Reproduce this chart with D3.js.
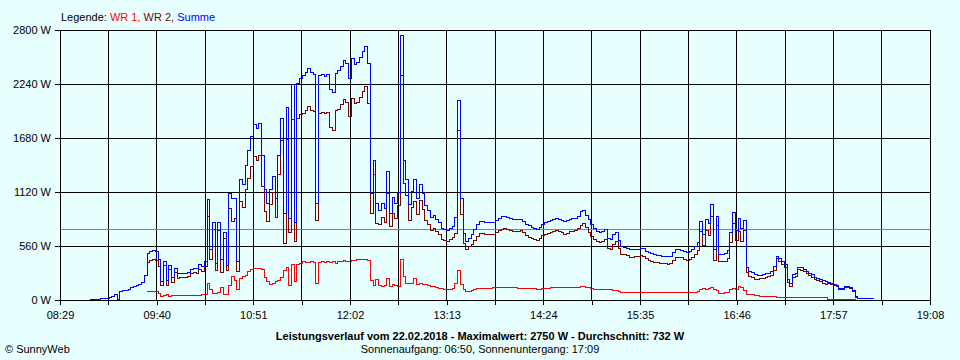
<!DOCTYPE html>
<html>
<head>
<meta charset="UTF-8" />
<script src="https://cdn.jsdelivr.net/npm/d3@7"></script>
<title>Leistungsverlauf</title>
<style>
  body { margin: 0; background: #e8ffff; }
  svg { display: block; font-family: "Liberation Sans", Arial, sans-serif; font-size: 11px; }
  .grid line { stroke: #000; shape-rendering: crispEdges; }
  .axis path { display: none; }
  .axis line { stroke: #000; shape-rendering: crispEdges; }
  .axis text { fill: #000; font-size: 11px; font-family: "Liberation Sans", Arial, sans-serif; }
  .series { fill: none; stroke-width: 1; shape-rendering: crispEdges; }
</style>
</head>
<body>
<svg id="chart" width="960" height="360"></svg>
<script>
// readings every 2 minutes starting 08:51
const startTime = "08:51";
const stepMinutes = 2;

const summe = [
  5,5,8,10,12,15,20,25,40,52,
  7,86,95,100,111,125,140,155,165,180,
  250,480,498,510,500,415,190,400,200,360,
  230,330,270,275,272,280,290,320,330,325,
  370,350,400,1040,520,800,380,800,420,700,
  360,1100,1050,1050,400,1250,1200,1400,1550,1700,
  1820,1780,1830,1500,1150,1000,1150,1280,1050,1500,
  1880,900,2000,850,2240,800,2250,2300,2330,2360,
  2400,2360,2340,1000,2330,2340,2320,2340,2180,2150,
  2350,2380,2420,2480,2450,2300,2500,2440,2460,2520,
  2580,2630,2450,1100,1450,1000,930,1000,950,1330,
  900,1060,1000,1120,2740,1450,1250,990,1130,1250,
  1050,1200,1100,980,930,860,880,840,800,740,
  730,720,740,760,860,2070,1050,690,610,640,
  680,730,778,810,810,805,805,805,805,825,
  850,866,870,857,848,840,835,830,840,815,
  785,768,755,740,733,750,785,800,815,825,
  837,845,838,825,812,820,835,842,850,870,
  915,930,880,830,780,740,715,700,715,735,
  640,630,680,705,620,556,545,536,520,519,
  525,528,536,530,505,490,480,470,465,458,
  456,452,449,455,490,519,519,512,500,490,
  500,520,550,600,810,680,830,790,990,520,
  870,470,470,480,510,700,910,720,850,740,
  820,340,300,285,265,255,259,265,272,280,
  300,345,456,430,400,370,210,170,260,270,
  337,335,318,298,280,262,235,222,212,200,
  188,180,175,165,150,120,121,138,135,128,
  100,34,18,18,18,17,17,17,17
];

const wr1 = [
  null,null,null,null,null,null,null,null,null,null,
  null,null,null,null,null,null,null,null,null,null,
  null,86,86,86,86,69,40,45,52,40,
  45,42,45,45,42,45,45,45,47,47,
  50,52,55,176,104,70,69,75,130,60,
  52,150,240,200,104,225,240,250,293,315,
  329,329,329,320,230,190,156,170,190,200,
  230,311,340,150,363,190,363,380,395,390,
  392,395,390,173,392,395,390,395,392,395,
  380,400,395,405,400,395,410,405,415,420,
  422,420,410,207,150,210,150,140,150,225,
  140,165,150,140,415,240,170,170,175,225,
  165,170,165,156,150,140,135,128,121,115,
  111,111,113,115,173,311,160,104,90,86,
  100,110,115,121,121,121,122,124,126,128,
  132,132,130,128,128,128,126,124,122,120,
  118,118,116,115,114,114,116,120,124,126,
  128,128,126,126,128,128,128,128,130,132,
  138,138,132,128,120,112,106,104,104,104,
  104,104,100,96,90,80,76,76,78,76,
  76,74,76,76,78,76,76,76,74,76,
  76,76,78,76,76,76,74,76,76,78,
  76,76,80,90,104,118,110,121,125,110,
  95,72,72,76,76,104,120,104,138,130,
  100,55,52,52,50,45,40,40,41,41,
  41,41,30,28,28,28,28,28,28,28,
  24,24,24,24,24,24,24,24,24,24,
  24,10,10,10,10,10,10,10,10,10,
  10,5
];

const wr2 = [
  null,null,null,null,null,null,null,null,null,null,
  null,null,null,null,null,null,null,null,null,null,
  null,394,412,424,414,346,150,355,148,320,
  185,288,225,230,230,235,245,275,283,278,
  320,298,345,864,416,730,311,725,290,640,
  308,950,810,850,296,1025,960,1150,1257,1385,
  1491,1451,1501,1180,920,810,994,1110,860,1300,
  1650,589,1660,700,1877,610,1887,1920,1935,1970,
  2008,1965,1950,827,1938,1945,1930,1945,1788,1755,
  1970,1980,2025,2075,2050,1905,2090,2035,2045,2100,
  2158,2210,2040,893,1300,790,780,860,800,1105,
  760,895,850,980,2325,1210,1080,820,955,1025,
  885,1030,935,824,780,720,745,712,679,625,
  619,609,627,645,687,1759,890,586,520,554,
  580,620,663,689,689,684,683,681,679,697,
  718,734,740,729,720,712,709,706,718,695,
  667,650,639,625,619,636,669,680,691,699,
  709,717,712,699,684,692,707,714,720,738,
  777,792,748,702,660,628,609,596,611,631,
  536,526,580,609,530,476,469,460,444,443,
  449,452,460,454,429,414,404,394,389,382,
  380,376,373,379,414,443,443,436,424,414,
  424,444,470,510,706,562,720,669,865,410,
  775,398,398,404,434,596,790,616,712,610,
  720,285,248,233,215,210,219,225,231,239,
  259,304,426,402,372,342,182,142,232,242,
  313,311,294,274,256,238,211,198,188,176,
  164,170,165,155,140,110,111,128,125,118,
  90,29,18,18,18,17,17,17,17
];

const yTicks = [0, 560, 1120, 1680, 2240, 2800];
const xTickLabels = ["08:29","09:40","10:51","12:02","13:13","14:24","15:35","16:46","17:57","19:08"];
const average = 732;

const legendItems = [
  {text: "WR 1", color: "#ff0000"},
  {text: "WR 2", color: "#800000"},
  {text: "Summe", color: "#0000ff"}
];
const titleText = "Leistungsverlauf vom 22.02.2018 - Maximalwert: 2750 W - Durchschnitt: 732 W";
const subText = "Sonnenaufgang: 06:50, Sonnenuntergang: 17:09";

const parse = s => d3.timeParse("%Y-%m-%d %H:%M")("2018-02-22 " + s);
const t0 = parse(startTime);
const times = summe.map((_, i) => d3.timeMinute.offset(t0, i * stepMinutes));

const plot = {left: 60, right: 930, top: 30, bottom: 300};
const svg = d3.select("#chart");

const labelDates = xTickLabels.map(parse);
const gridDates = [];
labelDates.forEach((d, i) => {
  gridDates.push(d);
  if (i < labelDates.length - 1) gridDates.push(new Date((+d + +labelDates[i + 1]) / 2));
});

const x = d3.scaleTime().domain([labelDates[0], labelDates[labelDates.length - 1]]).range([plot.left, plot.right]);
const y = d3.scaleLinear().domain([0, 2800]).range([plot.bottom, plot.top]);

// grid
const grid = svg.append("g").attr("class", "grid");
grid.selectAll(".h").data(yTicks).enter().append("line")
  .attr("x1", plot.left).attr("x2", plot.right)
  .attr("y1", d => y(d)).attr("y2", d => y(d));
grid.selectAll(".v").data(gridDates).enter().append("line")
  .attr("x1", d => x(d)).attr("x2", d => x(d))
  .attr("y1", plot.top).attr("y2", plot.bottom);

// axes
svg.append("g").attr("class", "axis")
  .attr("transform", "translate(" + plot.left + ",0)")
  .call(d3.axisLeft(y).tickValues(yTicks).tickSize(5).tickPadding(4).tickFormat(d => d + " W"));
svg.append("g").attr("class", "axis")
  .attr("transform", "translate(0," + plot.bottom + ")")
  .call(d3.axisBottom(x).tickValues(gridDates).tickSize(5).tickPadding(6)
    .tickFormat((d, i) => i % 2 ? "" : xTickLabels[i / 2]));

// average line
svg.append("line")
  .attr("x1", plot.left + 1).attr("x2", plot.right)
  .attr("y1", y(average)).attr("y2", y(average))
  .attr("stroke", "#808080").attr("shape-rendering", "crispEdges");

const line = values => d3.line()
  .defined((d, i) => values[i] != null)
  .x((d, i) => x(times[i]))
  .y((d, i) => y(values[i]))
  .curve(d3.curveStepAfter)(values);

svg.append("path").attr("class", "series").attr("stroke", "#ff0000").attr("d", line(wr1));
svg.append("path").attr("class", "series").attr("stroke", "#800000").attr("d", line(wr2));
svg.append("path").attr("class", "series").attr("stroke", "#0000ff").attr("d", line(summe));

// legend
const leg = svg.append("text").attr("x", 61).attr("y", 21);
leg.append("tspan").attr("fill", "#000").text("Legende: ");
legendItems.forEach((it, i) => {
  leg.append("tspan").attr("fill", it.color).text(it.text + (i < legendItems.length - 1 ? ", " : ""));
});

svg.append("text").attr("x", 480).attr("y", 340).attr("text-anchor", "middle")
  .attr("font-weight", "bold").text(titleText);
svg.append("text").attr("x", 480).attr("y", 353).attr("text-anchor", "middle").text(subText);
svg.append("text").attr("x", 5).attr("y", 353).text("\u00a9 SunnyWeb");
</script>
</body>
</html>
